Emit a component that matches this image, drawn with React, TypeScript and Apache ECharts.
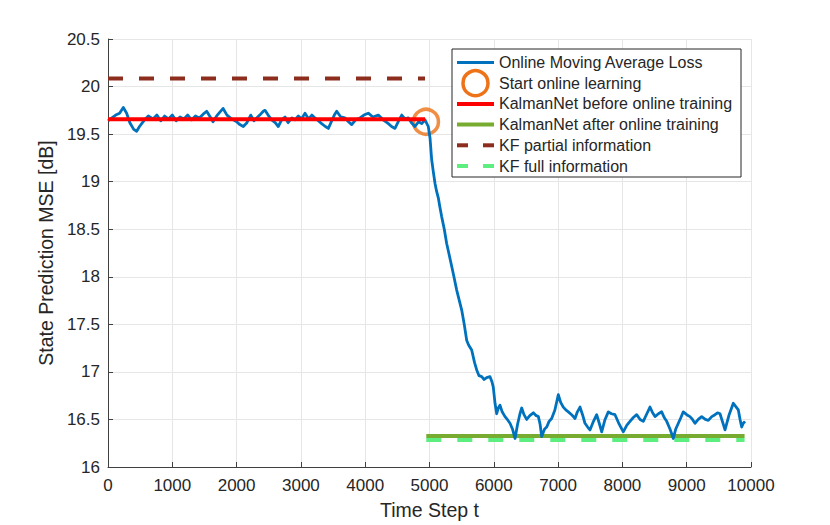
import React, { useEffect, useRef } from "react";
import * as echarts from "echarts";

// Online moving average loss
const blueSteps = [
  0, 60, 120, 180, 238, 290, 340, 400, 446, 490, 524, 580, 627, 700, 760, 820, 880, 940, 1000, 1060,
  1120, 1180, 1240, 1300, 1360, 1420, 1480, 1535, 1590, 1633, 1700, 1790, 1850, 1920, 2001, 2050,
  2104, 2160, 2220, 2270, 2312, 2360, 2415, 2442, 2490, 2546, 2600, 2648, 2700, 2753, 2800, 2860,
  2908, 2960, 3010, 3064, 3120, 3170, 3219, 3270, 3323, 3380, 3427, 3480, 3520, 3557, 3620, 3686,
  3740, 3790, 3850, 3919, 3980, 4048, 4120, 4204, 4280, 4360, 4410, 4463, 4520, 4568, 4620, 4671,
  4720, 4774, 4830, 4879, 4930, 4981, 5008, 5034, 5060, 5086, 5110, 5137, 5160, 5190, 5230, 5267,
  5300, 5345, 5380, 5423, 5460, 5501, 5540, 5579, 5610, 5656, 5700, 5734, 5770, 5812, 5850, 5889,
  5941, 5970, 5992, 6019, 6045, 6070, 6096, 6130, 6174, 6210, 6252, 6290, 6330, 6370, 6407, 6434,
  6470, 6511, 6560, 6615, 6660, 6693, 6720, 6745, 6790, 6823, 6860, 6900, 6950, 7003, 7040, 7081,
  7120, 7159, 7210, 7263, 7300, 7341, 7380, 7418, 7460, 7496, 7550, 7600, 7640, 7678, 7730, 7781,
  7830, 7885, 7950, 8014, 8070, 8118, 8170, 8222, 8275, 8325, 8380, 8429, 8470, 8507, 8560, 8611,
  8650, 8689, 8740, 8792, 8830, 8870, 8910, 8947, 9000, 9051, 9090, 9129, 9180, 9233, 9290, 9336,
  9390, 9440, 9480, 9518, 9560, 9596, 9660, 9725, 9770, 9803, 9830, 9855, 9880, 9907,
];
const blueLoss = [
  19.64, 19.67, 19.7, 19.72, 19.78, 19.72, 19.62, 19.55, 19.53, 19.58, 19.61, 19.66, 19.69, 19.66, 19.7, 19.64, 19.69, 19.66, 19.7, 19.64,
  19.68, 19.66, 19.7, 19.65, 19.69, 19.67, 19.71, 19.74, 19.68, 19.63, 19.7, 19.77, 19.7, 19.66, 19.63, 19.6,
  19.58, 19.62, 19.7, 19.64, 19.67, 19.7, 19.74, 19.75, 19.7, 19.65, 19.62, 19.58, 19.65, 19.68, 19.62, 19.67,
  19.65, 19.69, 19.66, 19.72, 19.66, 19.7, 19.67, 19.64, 19.61, 19.58, 19.56, 19.64, 19.7, 19.74, 19.68, 19.67,
  19.63, 19.6, 19.65, 19.67, 19.7, 19.72, 19.68, 19.7, 19.65, 19.61, 19.58, 19.56, 19.64, 19.7, 19.66, 19.67,
  19.62, 19.58, 19.63, 19.61, 19.65, 19.58, 19.46, 19.23, 19.1, 18.98, 18.9, 18.83, 18.74, 18.63, 18.5, 18.35,
  18.25, 18.11, 18.0, 17.86, 17.76, 17.65, 17.5, 17.33, 17.28, 17.23, 17.1, 17.02, 16.96, 16.95, 16.92, 16.94,
  16.95, 16.9, 16.84, 16.67, 16.56, 16.62, 16.65, 16.58, 16.53, 16.5, 16.46, 16.4, 16.3, 16.45, 16.56, 16.62,
  16.55, 16.5, 16.54, 16.57, 16.54, 16.53, 16.45, 16.32, 16.4, 16.42, 16.48, 16.51, 16.6, 16.76, 16.68, 16.63,
  16.6, 16.58, 16.55, 16.51, 16.58, 16.63, 16.55, 16.46, 16.42, 16.39, 16.48, 16.55, 16.46, 16.37, 16.5, 16.58,
  16.56, 16.55, 16.45, 16.37, 16.44, 16.48, 16.52, 16.55, 16.5, 16.48, 16.56, 16.63, 16.57, 16.53, 16.56, 16.58,
  16.52, 16.48, 16.4, 16.3, 16.4, 16.46, 16.52, 16.58, 16.55, 16.53, 16.5, 16.46, 16.5, 16.53, 16.5, 16.49,
  16.53, 16.55, 16.57, 16.56, 16.47, 16.39, 16.55, 16.67, 16.63, 16.6, 16.5, 16.42, 16.46, 16.48,
];

// Reference levels
const beforeSteps = [0, 4930];
const beforeLevel = 19.655;
const partialSteps = [0, 4930];
const partialLevel = 20.085;
const afterSteps = [4950, 9900];
const afterLevel = 16.325;
const fullSteps = [4950, 9900];
const fullLevel = 16.283;
const startPoint = [4945, 19.63];

const legendLabels = [
  "Online Moving Average Loss",
  "Start online learning",
  "KalmanNet before online training",
  "KalmanNet after online training",
  "KF partial information",
  "KF full information",
];

const xTicks = { min: 0, max: 10000, interval: 1000 };
const yTicks = { min: 16, max: 20.5, interval: 0.5 };

const FONT = "'Liberation Sans', Arial, Helvetica, sans-serif";
const TEXT = "#262626";
const BLUE = "#0072BD";
const ORANGE = "#EE7218";
const RED = "#FF0000";
const GREEN = "#77AC30";
const BROWN = "#8C2D1E";
const LGREEN = "#5CEE7E";

export default function App() {
  const ref = useRef<HTMLDivElement>(null);
  useEffect(() => {
    if (!ref.current) return;
    const chart = echarts.init(ref.current, null, { renderer: "svg" });
    const lx = 452, ly = 49, lw = 289, lh = 128;
    const rowY = (i: number) => 62.5 + i * 20.7;
    const s0 = 457, s1 = 494, tx = 499;
    const legendGraphics: any[] = [
      { type: "rect", shape: { x: lx, y: ly, width: lw, height: lh }, style: { fill: "#fff", stroke: "#262626", lineWidth: 1 }, z: 10 },
      { type: "line", shape: { x1: s0, y1: rowY(0), x2: s1, y2: rowY(0) }, style: { stroke: BLUE, lineWidth: 2.8 }, z: 11 },
      { type: "circle", shape: { cx: (s0 + s1) / 2, cy: rowY(1), r: 12.5 }, style: { fill: "none", stroke: ORANGE, lineWidth: 3.5 }, z: 11 },
      { type: "line", shape: { x1: s0, y1: rowY(2), x2: s1, y2: rowY(2) }, style: { stroke: RED, lineWidth: 4 }, z: 11 },
      { type: "line", shape: { x1: s0, y1: rowY(3), x2: s1, y2: rowY(3) }, style: { stroke: GREEN, lineWidth: 4 }, z: 11 },
      { type: "line", shape: { x1: s0, y1: rowY(4), x2: s0 + 11, y2: rowY(4) }, style: { stroke: BROWN, lineWidth: 4 }, z: 11 },
      { type: "line", shape: { x1: s1 - 11, y1: rowY(4), x2: s1, y2: rowY(4) }, style: { stroke: BROWN, lineWidth: 4 }, z: 11 },
      { type: "line", shape: { x1: s0, y1: rowY(5), x2: s0 + 11, y2: rowY(5) }, style: { stroke: LGREEN, lineWidth: 4 }, z: 11 },
      { type: "line", shape: { x1: s1 - 11, y1: rowY(5), x2: s1, y2: rowY(5) }, style: { stroke: LGREEN, lineWidth: 4 }, z: 11 },
      ...legendLabels.map((t, i) => ({
        type: "text",
        z: 11,
        style: { text: t, x: tx, y: rowY(i), fill: TEXT, font: `16px ${FONT}`, verticalAlign: "middle", align: "left" },
      })),
    ];
    chart.setOption({
      animation: false,
      backgroundColor: "#fff",
      textStyle: { fontFamily: FONT },
      grid: { left: 108, top: 39, right: 79, bottom: 58, outerBoundsMode: "none" },
      xAxis: {
        type: "value",
        min: xTicks.min,
        max: xTicks.max,
        interval: xTicks.interval,
        name: "Time Step t",
        nameLocation: "middle",
        nameGap: 33,
        nameTextStyle: { fontSize: 19.5, color: TEXT, fontFamily: FONT },
        axisLine: { show: true, lineStyle: { color: "#404040", width: 1 } },
        axisTick: { show: true, inside: true, length: 5, lineStyle: { color: "#404040" } },
        axisLabel: { fontSize: 17, color: TEXT, margin: 10, fontFamily: FONT, formatter: (v: number) => String(v) },
        splitLine: { show: true, lineStyle: { color: "#e6e6e6", width: 1 } },
      },
      yAxis: {
        type: "value",
        min: yTicks.min,
        max: yTicks.max,
        interval: yTicks.interval,
        name: "State Prediction MSE [dB]",
        nameLocation: "middle",
        nameGap: 46,
        nameRotate: 90,
        nameTextStyle: { fontSize: 19.5, color: TEXT, fontFamily: FONT },
        axisLine: { show: true, lineStyle: { color: "#404040", width: 1 } },
        axisTick: { show: true, inside: true, length: 5, lineStyle: { color: "#404040" } },
        axisLabel: { fontSize: 17, color: TEXT, margin: 8, fontFamily: FONT, formatter: (v: number) => String(v) },
        splitLine: { show: true, lineStyle: { color: "#e6e6e6", width: 1 } },
      },
      series: [
        {
          type: "line",
          data: partialSteps.map((x) => [x, partialLevel]),
          showSymbol: false,
          lineStyle: { color: BROWN, width: 4, type: [15, 16], cap: "butt" },
        },
        {
          type: "line",
          data: afterSteps.map((x) => [x, afterLevel]),
          showSymbol: false,
          lineStyle: { color: GREEN, width: 4 },
        },
        {
          type: "line",
          data: fullSteps.map((x) => [x, fullLevel]),
          showSymbol: false,
          lineStyle: { color: LGREEN, width: 4, type: [15, 16], cap: "butt" },
        },
        {
          type: "line",
          data: blueSteps.map((x, i) => [x, blueLoss[i]]),
          showSymbol: false,
          lineStyle: { color: BLUE, width: 2.8, join: "round" },
        },
        {
          type: "line",
          data: beforeSteps.map((x) => [x, beforeLevel]),
          showSymbol: false,
          lineStyle: { color: RED, width: 4 },
        },
        {
          type: "scatter",
          data: [startPoint],
          symbol: "circle",
          symbolSize: 25,
          itemStyle: { color: "rgba(0,0,0,0)", borderColor: ORANGE, borderWidth: 3.5 },
        },
      ],
      graphic: legendGraphics,
    });
    return () => chart.dispose();
  }, []);
  return <div ref={ref} style={{ position: "fixed", left: 0, top: 0, width: 830, height: 525 }} />;
}
